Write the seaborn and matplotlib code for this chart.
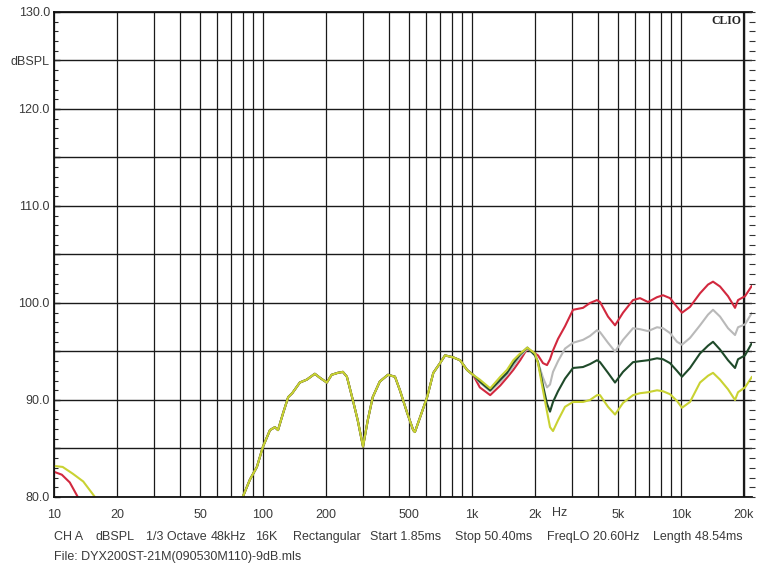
import pandas as pd
import seaborn as sns
import matplotlib.pyplot as plt
from matplotlib.ticker import FixedLocator, MultipleLocator, NullFormatter

# shared part of the four curves (they lie on top of each other below 1 kHz)
common_freq = [80, 86.6, 93.5, 100, 108, 114, 118, 125, 132, 138,
               150, 162, 177, 187, 202, 213, 228, 241, 252, 269,
               284, 301, 317, 335, 362, 396, 428, 452, 489, 523,
               533, 564, 610, 653, 703, 743, 812, 877, 947, 1011]
common_db = [80.0, 81.8, 83.1, 85.2, 86.9, 87.2, 86.9, 88.7, 90.3, 90.7,
             91.8, 92.1, 92.7, 92.3, 91.8, 92.6, 92.8, 92.9, 92.4, 90.0,
             87.9, 85.2, 87.9, 90.3, 91.9, 92.6, 92.4, 91.0, 88.7, 86.9,
             86.7, 88.2, 90.3, 92.8, 93.8, 94.6, 94.4, 94.1, 93.1, 92.6]

# above 1 kHz the curves split
high_freq = [1090, 1222, 1366, 1470, 1576, 1700, 1840, 2000, 2069, 2186,
             2285, 2362, 2441, 2579, 2786, 3043, 3397, 3668, 3964, 4097,
             4474, 4834, 5279, 5893, 6365, 6954, 7677, 8202, 8860, 9570,
             10110, 11043, 12330, 13465, 14228, 15370, 16787, 18130, 18740, 20240,
             21860]
red_db = [91.3, 90.5, 91.5, 92.3, 93.1, 94.1, 95.3, 94.8, 94.6, 93.8,
          93.6, 94.2, 95.1, 96.3, 97.6, 99.3, 99.5, 100.0, 100.3, 100.1,
          98.6, 97.7, 99.0, 100.3, 100.5, 100.1, 100.6, 100.8, 100.5, 99.6,
          99.0, 99.6, 101.0, 101.9, 102.2, 101.7, 100.7, 99.5, 100.3, 100.7,
          101.8]
gray_db = [91.8, 90.9, 91.9, 92.6, 93.5, 94.5, 95.3, 94.8, 93.9, 92.3,
           91.3, 91.6, 92.9, 94.0, 95.3, 95.9, 96.2, 96.6, 97.2, 97.0,
           95.9, 95.0, 96.2, 97.4, 97.3, 97.1, 97.5, 97.4, 96.9, 96.0,
           95.7, 96.4, 97.7, 98.8, 99.3, 98.6, 97.4, 96.7, 97.5, 97.8,
           99.0]
green_db = [91.9, 91.0, 92.1, 92.8, 93.8, 94.7, 95.4, 94.6, 93.9, 91.5,
            89.6, 88.8, 89.8, 90.9, 92.2, 93.3, 93.4, 93.7, 94.1, 93.9,
            92.8, 91.8, 92.9, 93.9, 94.0, 94.1, 94.3, 94.2, 93.8, 93.0,
            92.4, 93.3, 94.8, 95.6, 96.0, 95.2, 94.1, 93.3, 94.2, 94.6,
            95.9]
yellow_db = [92.1, 91.2, 92.4, 93.1, 94.1, 94.8, 95.4, 94.8, 93.8, 91.0,
             88.8, 87.2, 86.8, 87.9, 89.3, 89.8, 89.8, 90.0, 90.5, 90.5,
             89.3, 88.5, 89.7, 90.5, 90.7, 90.8, 91.0, 90.9, 90.6, 89.9,
             89.2, 89.8, 91.8, 92.5, 92.8, 92.1, 91.1, 90.0, 90.8, 91.3,
             92.4]

# tails at the very low end
red_low_freq = [10, 10.9, 11.9, 13.0]
red_low_db = [82.6, 82.3, 81.5, 80.0]
yellow_low_freq = [10, 11.0, 12.3, 13.8, 15.7]
yellow_low_db = [83.2, 83.1, 82.4, 81.6, 80.0]

curve_colors = {'red': '#d2283e', 'gray': '#b9b9b9', 'green': '#1f4a2a', 'yellow': '#c9d232'}

x_ticks = [10, 20, 50, 100, 200, 500, 1000, 2000, 5000, 10000, 20000]
x_labels = ['10', '20', '50', '100', '200', '500', '1k', '2k', '5k', '10k', '20k']
y_ticks = list(range(80, 131, 5))
y_labels = ['80.0', '', '90.0', '', '100.0', '', '110.0', '', '120.0', 'dBSPL', '130.0']

footer1 = [(54, 'CH A'), (95, 'dBSPL'), (146, '1/3 Octave'), (211, '48kHz'), (255, '16K'),
           (293, 'Rectangular'), (370, 'Start 1.85ms'), (455, 'Stop 50.40ms'),
           (547, 'FreqLO 20.60Hz'), (653, 'Length 48.54ms')]
footer2 = 'File: DYX200ST-21M(090530M110)-9dB.mls'

# build a long table, one "seg" per drawn piece
rows = []
for name, vals in [('red', red_db), ('gray', gray_db), ('green', green_db), ('yellow', yellow_db)]:
    for f, d in zip(common_freq + high_freq, common_db + vals):
        rows.append((name, name + '_main', f, d))
for f, d in zip(red_low_freq, red_low_db):
    rows.append(('red', 'red_low', f, d))
for f, d in zip(yellow_low_freq, yellow_low_db):
    rows.append(('yellow', 'yellow_low', f, d))
df = pd.DataFrame(rows, columns=['curve', 'seg', 'freq', 'db'])

sns.set_style('white')
plt.rcParams['font.family'] = ['Liberation Sans', 'DejaVu Sans']

fig = plt.figure(figsize=(7.59, 5.70), dpi=100)
ax = fig.add_axes([54 / 759, 73 / 570, 698 / 759, 485 / 570])
ax.set_xscale('log')

sns.lineplot(data=df, x='freq', y='db', hue='curve', units='seg', estimator=None,
             hue_order=['red', 'gray', 'green', 'yellow'], palette=curve_colors,
             sort=False, legend=False, linewidth=1.5, ax=ax)

ax.set_xlim(10, 21860)
ax.set_ylim(80, 130)
ax.set_xlabel('')
ax.set_ylabel('')

# x grid on every log line
minor_x = [m * 10 ** e for e in range(1, 5) for m in range(1, 10)]
minor_x = [v for v in minor_x if v not in x_ticks and v <= 20000]
ax.xaxis.set_major_locator(FixedLocator(x_ticks))
ax.xaxis.set_minor_locator(FixedLocator(minor_x))
ax.xaxis.set_minor_formatter(NullFormatter())
ax.set_xticklabels(x_labels)
ax.yaxis.set_major_locator(FixedLocator(y_ticks))
ax.yaxis.set_minor_locator(MultipleLocator(1))
ax.set_yticklabels(y_labels)

ax.set_axisbelow(True)
ax.grid(True, which='both', axis='x', color='#1a1a1a', linewidth=0.9)
ax.grid(True, which='major', axis='y', color='#1a1a1a', linewidth=1.0)
ax.axvline(20000, color='#1a1a1a', linewidth=1.6, zorder=0.5)

ax.tick_params(axis='x', which='both', length=0, pad=9, labelsize=9, labelcolor='#3a3a3a')
ax.tick_params(axis='y', which='major', direction='in', length=4, width=1,
               pad=3, labelsize=9, labelcolor='#3a3a3a', left=True, right=False)
ax.tick_params(axis='y', which='minor', direction='in', length=3, width=0.8, left=True, right=False)

for side in ['left', 'top', 'bottom']:
    ax.spines[side].set_color('#111111')
    ax.spines[side].set_linewidth(1.3)
ax.spines['right'].set_visible(False)

# tick rail on the right edge
ax2 = ax.twinx()
ax2.set_ylim(80, 130)
ax2.yaxis.set_major_locator(FixedLocator(y_ticks))
ax2.yaxis.set_minor_locator(MultipleLocator(1))
ax2.yaxis.set_major_formatter(NullFormatter())
ax2.tick_params(axis='y', which='both', direction='inout', length=4, width=0.8, color='#333333')
for side in ax2.spines:
    ax2.spines[side].set_visible(False)

ax.text(0.985, 0.993, 'CLIO', transform=ax.transAxes, ha='right', va='top',
        fontsize=8.5, fontweight='bold', family=['Liberation Serif', 'DejaVu Serif'], color='#222222')

fig.text(560 / 759, 1 - 513 / 570, 'Hz', ha='center', va='center', fontsize=9, color='#3a3a3a')
for px, s in footer1:
    fig.text(px / 759, 1 - 537 / 570, s, ha='left', va='center', fontsize=9, color='#3a3a3a')
fig.text(54 / 759, 1 - 557 / 570, footer2, ha='left', va='center', fontsize=9, color='#3a3a3a')

fig.savefig('out.png', dpi=100)
